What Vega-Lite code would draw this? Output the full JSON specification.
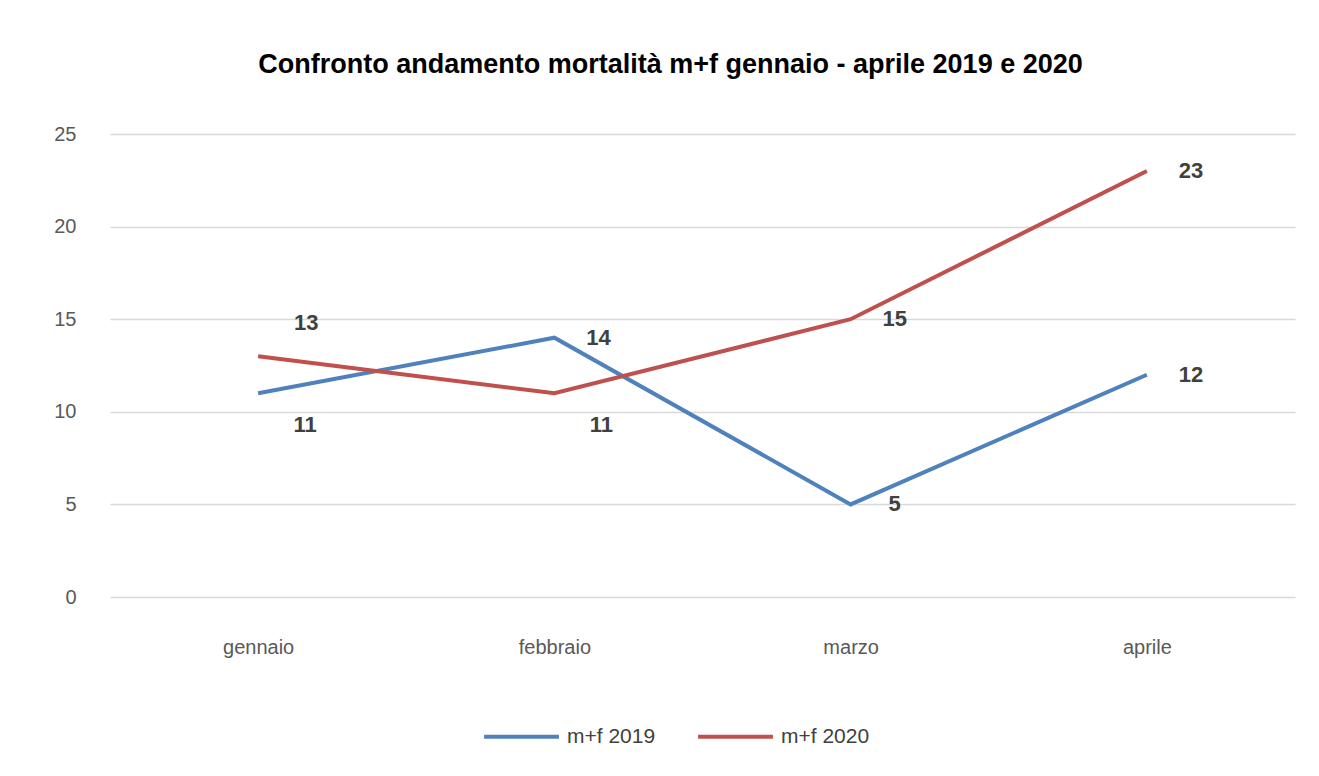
{
  "$schema": "https://vega.github.io/schema/vega-lite/v6.json",
  "width": 1185,
  "height": 463,
  "autosize": "none",
  "padding": {"left": 110, "top": 134, "right": 24, "bottom": 179},
  "background": "white",
  "title": {
    "text": "Confronto andamento mortalità m+f gennaio  - aprile 2019  e 2020",
    "font": "Liberation Sans",
    "fontSize": 27,
    "fontWeight": "bold",
    "color": "#000000",
    "anchor": "middle",
    "dx": -32,
    "offset": 45
  },
  "config": {
    "view": {"stroke": null},
    "font": "Liberation Sans"
  },
  "data": {
    "values": [
      {"mese": "gennaio", "serie": "m+f 2019", "valore": 11},
      {"mese": "febbraio", "serie": "m+f 2019", "valore": 14},
      {"mese": "marzo", "serie": "m+f 2019", "valore": 5},
      {"mese": "aprile", "serie": "m+f 2019", "valore": 12},
      {"mese": "gennaio", "serie": "m+f 2020", "valore": 13},
      {"mese": "febbraio", "serie": "m+f 2020", "valore": 11},
      {"mese": "marzo", "serie": "m+f 2020", "valore": 15},
      {"mese": "aprile", "serie": "m+f 2020", "valore": 23}
    ]
  },
  "encoding": {
    "x": {
      "field": "mese",
      "type": "ordinal",
      "sort": ["gennaio", "febbraio", "marzo", "aprile"],
      "scale": {"type": "point", "padding": 0.5},
      "axis": {
        "title": null,
        "domain": false,
        "ticks": false,
        "labelAngle": 0,
        "labelFont": "Liberation Sans",
        "labelFontSize": 20,
        "labelColor": "#595959",
        "labelPadding": 40
      }
    },
    "y": {
      "field": "valore",
      "type": "quantitative",
      "scale": {"domain": [0, 25], "nice": false},
      "axis": {
        "title": null,
        "values": [0, 5, 10, 15, 20, 25],
        "domain": false,
        "ticks": false,
        "gridColor": "#d9d9d9",
        "gridWidth": 1.5,
        "labelFont": "Liberation Sans",
        "labelFontSize": 20,
        "labelColor": "#595959",
        "labelPadding": 34
      }
    }
  },
  "layer": [
    {
      "mark": {"type": "line", "strokeWidth": 4},
      "encoding": {
        "color": {
          "field": "serie",
          "type": "nominal",
          "scale": {"domain": ["m+f 2019", "m+f 2020"], "range": ["#4f81bd", "#c0504d"]},
          "legend": {
            "title": null,
            "orient": "none",
            "direction": "horizontal",
            "legendX": 372,
            "legendY": 563,
            "symbolType": "stroke",
            "symbolSize": 5600,
            "symbolStrokeWidth": 4,
            "labelFont": "Liberation Sans",
            "labelFontSize": 21,
            "labelColor": "#404040",
            "labelOffset": 6,
            "columnPadding": 34
          }
        }
      }
    },
    {
      "transform": [{"filter": "!(datum.mese == 'gennaio') && !(datum.mese == 'febbraio' && datum.serie == 'm+f 2020')"}],
      "mark": {"type": "text", "dx": 44, "fontSize": 22, "fontWeight": "bold", "color": "#404040", "baseline": "middle"},
      "encoding": {"text": {"field": "valore", "type": "quantitative"}}
    },
    {
      "transform": [{"filter": "datum.mese == 'gennaio' && datum.serie == 'm+f 2020'"}],
      "mark": {"type": "text", "dx": 48, "dy": -33, "fontSize": 22, "fontWeight": "bold", "color": "#404040", "baseline": "middle"},
      "encoding": {"text": {"field": "valore", "type": "quantitative"}}
    },
    {
      "transform": [{"filter": "(datum.mese == 'gennaio' && datum.serie == 'm+f 2019') || (datum.mese == 'febbraio' && datum.serie == 'm+f 2020')"}],
      "mark": {"type": "text", "dx": 47, "dy": 32, "fontSize": 22, "fontWeight": "bold", "color": "#404040", "baseline": "middle"},
      "encoding": {"text": {"field": "valore", "type": "quantitative"}}
    }
  ]
}
